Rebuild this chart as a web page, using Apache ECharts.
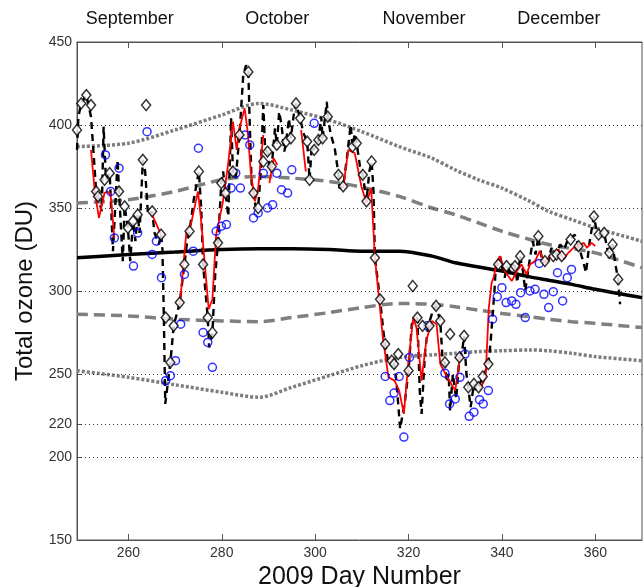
<!DOCTYPE html>
<html><head><meta charset="utf-8">
<script src="https://cdn.jsdelivr.net/npm/echarts@6/dist/echarts.min.js"></script>
<style>html,body{margin:0;padding:0;background:#fff}#c{width:644px;height:587px}</style>
</head><body><div id="c"></div>
<script>
// ---- axes / labels ----
const xTickValues = [260, 280, 300, 320, 340, 360];
const yTickValues = [150, 200, 220, 250, 300, 350, 400, 450];
const yGridValues = [200, 220, 250, 300, 350, 400];
const monthNames = ['September', 'October', 'November', 'December'];
const monthDays = [260.3, 291.9, 323.3, 352.2];

// ---- climatology (shared days) ----
const climDays   = [249, 260, 270, 280, 288, 295, 303, 310, 318, 325, 330, 335, 340, 346, 350, 355, 360, 370];
const climMean   = [320, 322, 323.5, 325, 325.5, 325.5, 325, 324, 324, 321, 317, 314.5, 312, 308.5, 306.5, 304, 301, 296];
const climUp1    = [353, 355, 360, 367, 369, 368, 366, 362.5, 357, 350, 346, 341, 336, 331, 328, 325.5, 323, 314];
const climLo1    = [286, 285, 283, 282, 281.5, 284, 287, 290, 292.5, 292, 290.5, 288.5, 286.5, 284.5, 283, 281.5, 280.5, 278];
const climUp2    = [387, 389, 397, 406, 413, 409, 403, 396, 387, 380, 373, 367, 362, 354, 348, 343, 338, 330];
const climLo2    = [252, 248, 243.5, 239, 236, 242, 249, 255, 260, 261.5, 262.5, 263.5, 264, 264.5, 264, 262.5, 260.5, 258];

// ---- observations: diamonds ----
const diamondDays = [249.0, 249.9, 251.0, 252.0, 253.1, 253.5, 254.9, 256.0, 258.0, 259.2, 259.9, 261.0, 262.0, 263.1, 263.8, 265.1, 267.0, 268.0, 269.0, 269.7, 271.0, 272.0, 273.1, 275.1, 276.0, 277.0, 278.0, 279.2, 279.9, 280.8, 282.4, 283.8, 285.7, 286.8, 287.8, 288.9, 289.8, 290.7, 291.8, 293.8, 294.8, 295.9, 296.8, 298.3, 298.8, 299.8, 300.7, 301.6, 302.7, 305.0, 306.0, 308.0, 308.9, 310.2, 311.0, 312.1, 312.8, 313.9, 315.0, 316.4, 316.9, 317.8, 320.0, 320.9, 321.9, 323.0, 324.5, 325.9, 326.8, 327.8, 328.9, 330.9, 331.9, 332.8, 334.0, 335.0, 335.9, 337.1, 339.2, 341.0, 342.8, 343.9, 347.8, 349.2, 351.0, 351.7, 352.8, 354.7, 356.4, 359.7, 360.7, 361.9, 363.0, 363.7, 364.9];
const diamondVals = [397, 413, 418, 412, 360, 357, 367, 371, 360, 351, 338, 342, 346, 379, 412, 348, 334, 284, 257, 279, 293, 316, 336, 372, 316, 284, 275, 329, 365, 359, 372, 394, 432, 359, 350, 378, 384, 375, 388, 390, 392, 413, 404, 390, 367, 385, 391, 392, 405, 370, 363, 387, 389, 370, 354, 378, 320, 295, 268, 258, 256, 262, 252, 303, 284, 279, 279, 291, 282, 257, 274, 260, 273, 242, 244, 242, 248.5, 256, 316, 315, 315, 321, 333, 318, 321, 322, 321, 331, 327, 345, 334, 335, 323, 328, 307];

// ---- observations: dashed black line ----
const dashDays = [249.0, 249.3, 249.9, 251.0, 252.0, 252.5, 253.1, 253.5, 254.3, 254.7, 255.2, 256.0, 256.7, 257.7, 258.0, 258.8, 259.2, 259.9, 260.4, 261.0, 261.5, 262.0, 262.4, 263.1, 263.6, 264.2, 265.1, 265.6, 266.5, 267.0, 267.3, 267.6, 267.9, 269.0, 269.7, 271.0, 272.0, 272.6, 273.1, 274.0, 275.1, 275.6, 276.0, 276.5, 277.0, 277.3, 278.0, 278.6, 279.2, 279.9, 280.3, 280.8, 281.4, 282.0, 282.4, 283.0, 283.8, 284.6, 285.2, 285.7, 286.0, 286.4, 286.8, 287.3, 287.8, 288.3, 288.9, 289.3, 289.8, 290.3, 290.7, 291.4, 291.8, 292.3, 292.8, 293.4, 293.8, 294.4, 294.8, 295.5, 295.9, 296.8, 297.5, 298.3, 298.8, 299.3, 299.8, 300.7, 301.3, 301.6, 302.5, 302.7, 303.3, 304.2, 305.0, 305.2, 306.0, 306.8, 307.6, 308.0, 308.5, 308.9, 309.6, 310.2, 311.0, 311.6, 312.1, 312.5, 312.8, 313.9, 314.6, 315.0, 315.6, 316.4, 316.9, 317.4, 318.2, 319.3, 320.0, 320.7, 321.3, 321.9, 322.4, 322.8, 323.5, 324.2, 324.5, 325.2, 325.9, 326.8, 327.3, 327.8, 328.2, 328.6, 328.9, 329.5, 330.2, 330.9, 331.4, 331.9, 332.4, 332.8, 333.3, 334.0, 334.5, 335.0, 335.9, 336.5, 337.1, 337.6, 338.0, 338.4, 338.7, 339.2, 339.6, 340.2, 340.6, 341.0, 341.7, 342.1, 342.8, 343.3, 343.9, 344.5, 345.0, 345.8, 346.6, 347.2, 347.8, 348.5, 349.2, 349.9, 350.6, 351.0, 351.7, 352.5, 353.3, 354.0, 354.7, 355.6, 356.4, 357.4, 358.0, 358.8, 359.7, 360.3, 360.7, 361.4, 361.9, 362.6, 363.0, 363.7, 364.3, 364.9, 365.3];
const dashVals = [385, 405, 413, 418, 405, 385, 360, 357, 348, 399, 367, 371, 324, 379, 360, 318, 351, 338, 318, 342, 330, 346, 335, 379, 372, 346, 348, 335, 328, 334, 325, 284, 232, 257, 279, 293, 316, 330, 336, 355, 372, 350, 316, 300, 284, 266, 275, 310, 329, 365, 372, 359, 345, 404, 372, 368, 394, 430, 436, 432, 400, 365, 359, 350, 350, 370, 412, 385, 384, 372, 375, 398, 388, 408, 400, 384, 390, 404, 392, 408, 413, 404, 395, 390, 367, 388, 385, 391, 405, 392, 414, 405, 395, 386, 370, 362, 363, 380, 400, 387, 395, 389, 375, 370, 354, 372, 378, 360, 320, 295, 276, 268, 258, 258, 256, 246, 217, 235, 252, 280, 282, 284, 240, 226, 262, 279, 279, 288, 291, 282, 258, 257, 245, 250, 228, 250, 235, 260, 262, 273, 250, 242, 230, 244, 240, 242, 248.5, 252, 256, 270, 285, 300, 315, 316, 321, 312, 308, 315, 312, 316, 315, 305, 321, 312, 300, 316, 330, 322, 333, 320, 318, 318, 326, 321, 322, 328, 325, 330, 331, 334, 327, 318, 311, 330, 345, 336, 334, 333, 335, 325, 323, 328, 316, 307, 292];

// ---- red line (null = gap) ----
const redDays = [252.0, 252.8, 253.7, 254.9, 255.5, 256.2, 257.0, 260.0, 264.9, 267.0, 269.0, 271.0, 272.4, 273.4, 274.9, 275.5, 277.2, 278.0, 278.8, 280.2, 281.3, 282.4, 283.2, 283.8, 284.9, 285.6, 286.2, 287.1, 287.8, 288.9, 289.5, 290.2, 291.1, 291.9, 294.0, 297.0, 298.0, 302.0, 306.0, 307.1, 308.5, 309.9, 311.0, 312.0, 312.8, 313.7, 314.5, 315.7, 317.0, 318.0, 319.0, 320.0, 321.0, 321.7, 322.8, 323.8, 325.0, 326.0, 326.8, 328.3, 330.0, 331.0, 331.5, 333.0, 335.2, 336.5, 337.2, 337.8, 338.2, 339.0, 339.6, 340.6, 342.1, 343.2, 344.2, 345.3, 346.0, 347.1, 348.1, 349.2, 350.3, 351.0, 352.1, 353.2, 354.2, 355.3, 356.4, 357.5, 358.2, 359.2, 360.0];
const redVals = [385, 360, 344, 359, 360, 358, 332, null, 347, 334, null, 291, 335, 340, 360, 345, 289, 295, 334, 353, 375, 402, 385, 398, 410, 395, 372, 354, 362, 394, null, 365, 380, 376, null, 397, 372, null, 362, 385, 383, 363, 353, 362, 320, 295, 272, 248, 246, 240, 226, 258, 284, 278, 246, 270, 282, 280, 256, 248, 240, 260, 262, null, 240, 248, 290, 305, 308, 318, 321, 312, 306, 312, 316, 310, 316, 318, 324, 317, 321, 323, 325, 319, 323, 326, 327, 329, 326, 329, 327];

// ---- blue circles ----
const blueDays = [255.1, 256.2, 257.0, 258.0, 261.1, 262.0, 264.0, 265.1, 266.0, 267.1, 268.0, 269.0, 270.1, 271.2, 272.0, 273.9, 275.0, 276.0, 277.0, 278.0, 278.8, 279.9, 281.0, 282.0, 283.0, 284.0, 285.0, 286.0, 286.8, 287.8, 288.9, 289.8, 290.9, 291.8, 292.8, 294.1, 295.0, 299.8, 315.0, 316.0, 316.9, 318.0, 319.0, 320.2, 324.0, 327.8, 328.8, 330.0, 331.0, 332.1, 333.0, 334.0, 335.2, 336.0, 337.1, 338.0, 339.0, 340.0, 340.9, 342.1, 343.0, 344.0, 345.0, 346.0, 347.1, 348.0, 349.0, 350.0, 351.0, 351.9, 353.0, 354.0, 354.9];
const blueVals = [382, 360, 332, 374, 315, 335, 396, 322, 330, 308, 246, 249, 258, 280, 310, 324, 386, 275, 269, 254, 336, 339, 340, 362, 371, 362, 394, 388, 344, 347, 371, 350, 352, 371, 361, 359, 373, 401, 248.5, 234, 238.5, 248.5, 212, 260, 279, 250.5, 232, 235, 248, 262, 224.5, 227, 234.5, 232, 240, 283, 296.6, 302, 293, 294, 292, 299, 284, 300, 301, 316.6, 298, 290, 299.6, 311, 294, 308, 313];

const zip = (a, b) => a.map((d, i) => [d, b[i] === null ? '-' : b[i]]);
const FONT = 'Liberation Sans, Arial, sans-serif';

const chart = echarts.init(document.getElementById('c'), null, {renderer: 'canvas'});
const grayDot = {color: '#7d7d7d', width: 3.5, type: [3, 2]};
const grayDash = {color: '#7f7f7f', width: 3.5, type: [11, 6]};

chart.setOption({
  animation: false,
  backgroundColor: '#fff',
  grid: {left: 77, right: 2, top: 42, bottom: 47, show: true, borderColor: '#555', borderWidth: 1,
    backgroundColor: 'transparent', containLabel: false, outerBoundsMode: 'none'},
  xAxis: [{
    type: 'value', min: 249, max: 370, position: 'bottom',
    name: '2009 Day Number', nameLocation: 'middle', nameGap: 23,
    nameTextStyle: {fontFamily: FONT, fontSize: 25, color: '#111'},
    axisLine: {show: true, lineStyle: {color: '#555'}},
    axisTick: {show: true, inside: true, length: 6, customValues: xTickValues, lineStyle: {color: '#555'}},
    axisLabel: {customValues: xTickValues, fontFamily: FONT, fontSize: 14, color: '#333', margin: 6},
    splitLine: {show: false}
  }, {
    type: 'value', min: 249, max: 370, position: 'top',
    axisLine: {show: true, lineStyle: {color: '#555'}},
    axisTick: {show: true, inside: true, length: 6, customValues: xTickValues, lineStyle: {color: '#555'}},
    axisLabel: {customValues: monthDays, fontFamily: FONT, fontSize: 18, color: '#111', margin: 14,
      formatter: v => { const i = monthDays.findIndex(m => Math.abs(m - v) < 0.01); return i >= 0 ? monthNames[i] : ''; }},
    splitLine: {show: false}
  }],
  yAxis: {
    type: 'value', min: 150, max: 450,
    name: 'Total ozone (DU)', nameLocation: 'middle', nameGap: 37, nameRotate: 90,
    nameTextStyle: {fontFamily: FONT, fontSize: 24, color: '#111'},
    axisLine: {show: true, lineStyle: {color: '#555'}},
    axisTick: {show: true, inside: true, length: 5, customValues: yTickValues, lineStyle: {color: '#555'}},
    axisLabel: {customValues: yTickValues, fontFamily: FONT, fontSize: 14, color: '#333', margin: 5},
    splitLine: {show: false}
  },
  series: [
    {type: 'line', name: 'grid', data: [], markLine: {silent: true, symbol: 'none', label: {show: false},
      lineStyle: {color: '#333', width: 1, type: [1, 3]}, data: yGridValues.map(v => ({yAxis: v}))}},
    {type: 'line', data: zip(climDays, climUp2), symbol: 'none', smooth: 0.3, lineStyle: grayDot, z: 2},
    {type: 'line', data: zip(climDays, climLo2), symbol: 'none', smooth: 0.3, lineStyle: grayDot, z: 2},
    {type: 'line', data: zip(climDays, climUp1), symbol: 'none', smooth: 0.3, lineStyle: grayDash, z: 2},
    {type: 'line', data: zip(climDays, climLo1), symbol: 'none', smooth: 0.3, lineStyle: grayDash, z: 2},
    {type: 'line', data: zip(climDays, climMean), symbol: 'none', smooth: 0.3, lineStyle: {color: '#000', width: 3.5}, z: 3},
    {type: 'line', data: zip(dashDays, dashVals), symbol: 'none', lineStyle: {color: '#000', width: 2.4, type: [7, 5]}, z: 4},
    {type: 'line', data: zip(redDays, redVals), symbol: 'none', connectNulls: false, lineStyle: {color: '#ff0000', width: 1.8}, z: 5},
    {type: 'scatter', data: zip(blueDays, blueVals), symbol: 'circle', symbolSize: 8,
      itemStyle: {color: 'rgba(0,0,0,0)', borderColor: '#0000ff', borderWidth: 1.5}, z: 6},
    {type: 'scatter', data: zip(diamondDays, diamondVals), symbol: 'diamond', symbolSize: [9, 11],
      itemStyle: {color: '#fff', borderColor: '#000', borderWidth: 1.5}, z: 7}
  ]
});
</script></body></html>
